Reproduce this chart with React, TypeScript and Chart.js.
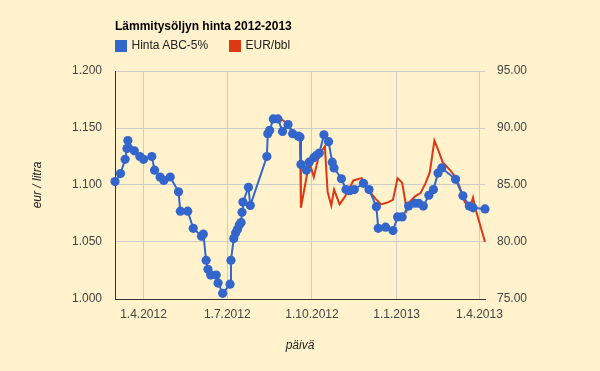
import React, { useEffect, useRef } from 'react';
import { Chart, registerables } from 'chart.js';

Chart.register(...registerables);

const chartTitle = 'Lämmitysöljyn hinta 2012-2013';
const seriesNames = ['Hinta ABC-5%', 'EUR/bbl'];
const yTitle = 'eur / litra';
const xTitle = 'päivä';

const blueDates = [
  '2012-03-01', '2012-03-07', '2012-03-12', '2012-03-14', '2012-03-15', '2012-03-22', '2012-03-28',
  '2012-04-01', '2012-04-10', '2012-04-13', '2012-04-19', '2012-04-23', '2012-04-30',
  '2012-05-09', '2012-05-11', '2012-05-19', '2012-05-25',
  '2012-06-03', '2012-06-05', '2012-06-08', '2012-06-10', '2012-06-13', '2012-06-19', '2012-06-21', '2012-06-26',
  '2012-07-04', '2012-07-05', '2012-07-08', '2012-07-10', '2012-07-12', '2012-07-14', '2012-07-16', '2012-07-17',
  '2012-07-18', '2012-07-24', '2012-07-26',
  '2012-08-13', '2012-08-14', '2012-08-16', '2012-08-20', '2012-08-25', '2012-08-30',
  '2012-09-05', '2012-09-10', '2012-09-16', '2012-09-18', '2012-09-19', '2012-09-25', '2012-09-28',
  '2012-10-03', '2012-10-06', '2012-10-09', '2012-10-14', '2012-10-19', '2012-10-23', '2012-10-25',
  '2012-11-02', '2012-11-07', '2012-11-11', '2012-11-16', '2012-11-26',
  '2012-12-02', '2012-12-10', '2012-12-12', '2012-12-20', '2012-12-28',
  '2013-01-02', '2013-01-07', '2013-01-14', '2013-01-21', '2013-01-25', '2013-01-30',
  '2013-02-05', '2013-02-10', '2013-02-15', '2013-02-19',
  '2013-03-06', '2013-03-14', '2013-03-21', '2013-03-25', '2013-04-07',
];
const blueValues = [
  1.103, 1.110, 1.1225, 1.132, 1.139, 1.130, 1.125,
  1.1225, 1.125, 1.113, 1.107, 1.104, 1.107,
  1.094, 1.077, 1.077, 1.062,
  1.055, 1.057, 1.034, 1.026, 1.021, 1.021, 1.014, 1.005,
  1.013, 1.034, 1.053, 1.058, 1.061, 1.065, 1.067, 1.076,
  1.085, 1.098, 1.082,
  1.125, 1.145, 1.148, 1.158, 1.158, 1.147,
  1.153, 1.145, 1.143, 1.142, 1.118, 1.113, 1.120,
  1.124, 1.126, 1.128, 1.144, 1.138, 1.120, 1.115,
  1.1055, 1.096, 1.095, 1.096, 1.1015,
  1.096, 1.081, 1.062, 1.063, 1.060,
  1.072, 1.072, 1.0815, 1.084, 1.084, 1.0815,
  1.091, 1.096, 1.1105, 1.115,
  1.105, 1.0905, 1.0815, 1.080, 1.079,
];

const eurDates = [
  '2012-08-26', '2012-09-01', '2012-09-07', '2012-09-16', '2012-09-18', '2012-09-19', '2012-09-26',
  '2012-09-29', '2012-10-03', '2012-10-08', '2012-10-11', '2012-10-15', '2012-10-18', '2012-10-22',
  '2012-10-25', '2012-10-31', '2012-11-06', '2012-11-15', '2012-11-24', '2012-12-01', '2012-12-09',
  '2012-12-15', '2012-12-23', '2012-12-28', '2013-01-02', '2013-01-07', '2013-01-12', '2013-01-15',
  '2013-01-21', '2013-01-27', '2013-02-01', '2013-02-06', '2013-02-11', '2013-02-15', '2013-02-20',
  '2013-02-28', '2013-03-06', '2013-03-11', '2013-03-16', '2013-03-22', '2013-03-25', '2013-03-27',
  '2013-04-07',
];
const eurValues = [
  90.9, 90.6, 90.0, 89.2, 89.0, 83.0, 86.1,
  86.8, 85.7, 87.4, 87.9, 88.4, 84.4, 83.2,
  84.6, 83.3, 84.0, 85.4, 85.6, 84.6, 83.8,
  83.3, 83.5, 83.7, 85.6, 85.2, 82.8, 83.5,
  84.0, 84.3, 85.1, 86.1, 88.9, 88.1, 87.0,
  86.3, 85.7, 84.7, 83.5, 83.1, 83.9, 83.1,
  80.0,
];

const xTickDates = ['2012-04-01', '2012-07-01', '2012-10-01', '2013-01-01', '2013-04-01'];

const BG = '#fff2cc';
const BLUE = '#3366cc';
const RED = '#dc3912';
const FONT = '"Liberation Sans", Arial, sans-serif';

const dayOf = (s: string) =>
  Date.UTC(+s.slice(0, 4), +s.slice(5, 7) - 1, +s.slice(8, 10)) / 86400000;

const fmtDay = (v: number) => {
  const d = new Date(Math.round(v) * 86400000);
  return `${d.getUTCDate()}.${d.getUTCMonth() + 1}.${d.getUTCFullYear()}`;
};

export default function App() {
  const ref = useRef<HTMLCanvasElement | null>(null);

  useEffect(() => {
    if (!ref.current) return;
    Chart.defaults.font.family = FONT;
    const xMin = dayOf(blueDates[0]);
    const xMax = dayOf(blueDates[blueDates.length - 1]);
    const chart = new Chart(ref.current, {
      type: 'line',
      data: {
        datasets: [
          {
            label: seriesNames[0],
            data: blueDates.map((d, i) => ({ x: dayOf(d), y: blueValues[i] })),
            borderColor: BLUE,
            backgroundColor: BLUE,
            borderWidth: 2,
            pointRadius: 4.6,
            pointBorderWidth: 0,
            pointBackgroundColor: BLUE,
            yAxisID: 'y',
            clip: false as any,
          },
          {
            label: seriesNames[1],
            data: eurDates.map((d, i) => ({ x: dayOf(d), y: eurValues[i] })),
            borderColor: RED,
            backgroundColor: RED,
            borderWidth: 2,
            pointRadius: 0,
            yAxisID: 'y1',
            clip: false as any,
          },
        ],
      },
      options: {
        animation: false,
        responsive: false,
        devicePixelRatio: 1,
        layout: { padding: { top: 71, left: 30, right: 0, bottom: 18 } },
        plugins: { legend: { display: false }, title: { display: false }, tooltip: { enabled: false } },
        scales: {
          x: {
            type: 'linear',
            min: xMin,
            max: xMax,
            afterBuildTicks: (scale: any) => {
              scale.ticks = xTickDates.map((d) => ({ value: dayOf(d) }));
            },
            afterFit: (scale: any) => {
              scale.height = 54;
            },
            ticks: {
              callback: (v: any) => fmtDay(Number(v)),
              autoSkip: false,
              maxRotation: 0,
              color: '#444',
              font: { size: 12 },
              padding: 8,
            },
            grid: { color: '#cccccc', drawTicks: false, lineWidth: 1 },
            border: { color: '#333333', width: 1 },
            title: {
              display: true,
              text: xTitle,
              color: '#222',
              font: { size: 12, style: 'italic' },
              padding: 0,
            },
          },
          y: {
            type: 'linear',
            position: 'left',
            min: 1.0,
            max: 1.2,
            afterFit: (scale: any) => {
              scale.width = 85;
            },
            ticks: {
              stepSize: 0.05,
              callback: (v: any) => Number(v).toFixed(3),
              color: '#444',
              font: { size: 12 },
              padding: 13,
            },
            grid: { color: '#cccccc', drawTicks: false, lineWidth: 1 },
            border: { color: '#333333', width: 1 },
            title: {
              display: true,
              text: yTitle,
              color: '#222',
              font: { size: 12, style: 'italic' },
              padding: 0,
            },
          },
          y1: {
            type: 'linear',
            position: 'right',
            min: 75,
            max: 95,
            afterFit: (scale: any) => {
              scale.width = 115;
            },
            ticks: {
              stepSize: 5,
              callback: (v: any) => Number(v).toFixed(2),
              color: '#444',
              font: { size: 12 },
              padding: 12,
            },
            grid: { display: false, drawTicks: false },
            border: { display: false },
          },
        },
      },
    } as any);
    return () => chart.destroy();
  }, []);

  const textBase: React.CSSProperties = {
    position: 'absolute',
    fontFamily: FONT,
    fontSize: 12,
    lineHeight: '14px',
    whiteSpace: 'nowrap',
    color: '#222',
  };

  return (
    <div style={{ position: 'absolute', left: 0, top: 0, width: 600, height: 371, background: BG, overflow: 'hidden' }}>
      <canvas ref={ref} width={600} height={371} style={{ position: 'absolute', left: 0, top: 0, display: 'block' }} />
      <div style={{ ...textBase, left: 115, top: 19, fontWeight: 'bold', color: '#000' }}>{chartTitle}</div>
      <div style={{ position: 'absolute', left: 115, top: 40, width: 12, height: 12, background: BLUE }} />
      <div style={{ ...textBase, left: 131.5, top: 38 }}>{seriesNames[0]}</div>
      <div style={{ position: 'absolute', left: 229, top: 40, width: 12, height: 12, background: RED }} />
      <div style={{ ...textBase, left: 245.5, top: 38 }}>{seriesNames[1]}</div>
    </div>
  );
}
